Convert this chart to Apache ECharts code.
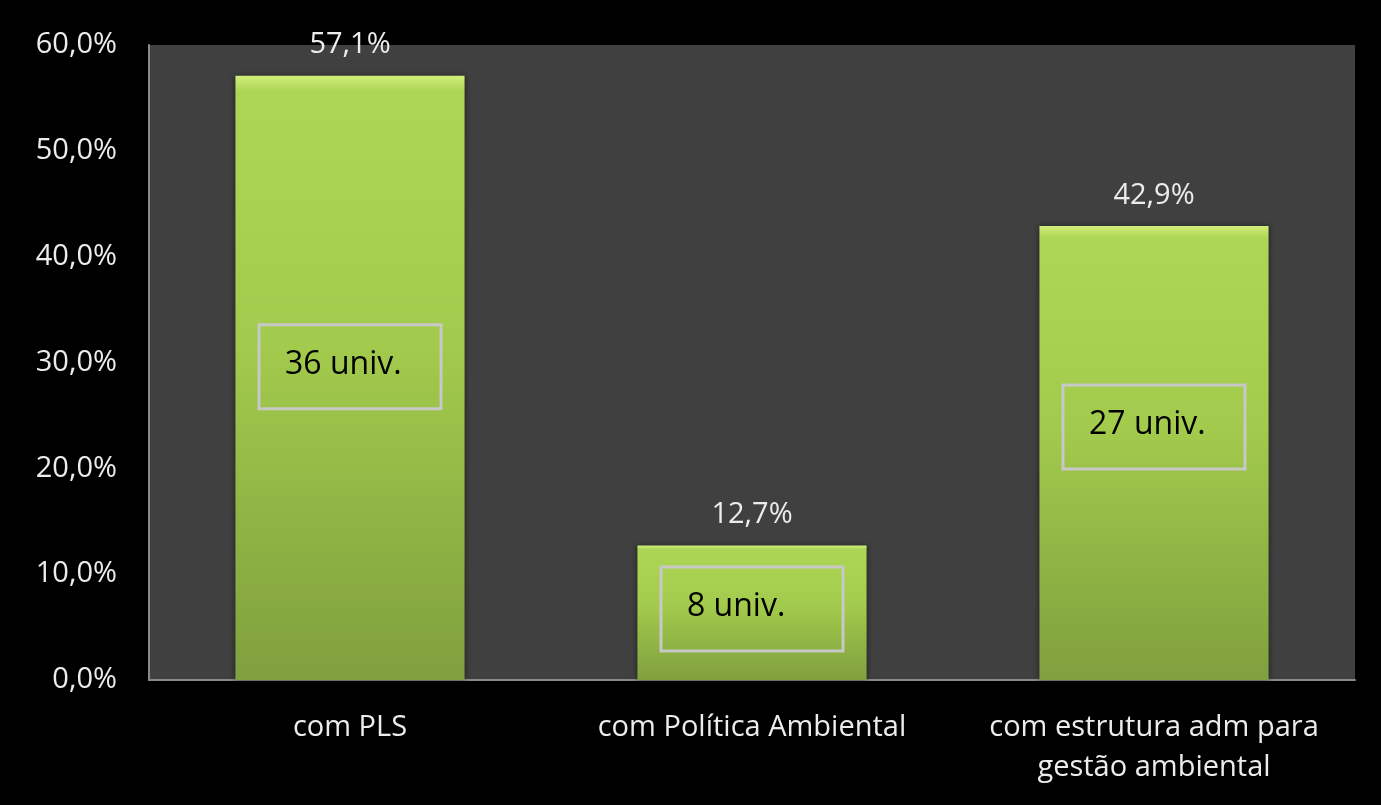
<!DOCTYPE html>
<html>
<head>
<meta charset="utf-8">
<script src="https://cdn.jsdelivr.net/npm/echarts@6/dist/echarts.min.js"></script>
<style>
  html, body { margin: 0; padding: 0; background: #000; }
  #chart { width: 1381px; height: 805px; }
</style>
</head>
<body>
<div id="chart"></div>
<script>
// dados do gráfico
const categories = ['com PLS', 'com Política Ambiental', 'com estrutura adm para\ngestão ambiental'];
const percentValues = [57.1, 12.7, 42.9];
const boxLabels = ['36 univ.', '8 univ.', '27 univ.'];
const boxCenters = [29.6, 6.7, 23.9];   // altura (em %) do centro de cada caixa
const yTicks = { min: 0, max: 60, interval: 10 };

const fmt = v => v.toFixed(1).replace('.', ',') + '%';

const chart = echarts.init(document.getElementById('chart'));

chart.setOption({
  backgroundColor: '#000',
  animation: false,
  textStyle: { fontFamily: 'Open Sans' },
  grid: {
    left: 149, right: 26, top: 45, bottom: 125,
    show: true, backgroundColor: '#404040', borderWidth: 0
  },
  xAxis: {
    type: 'category',
    data: categories,
    axisLine: { lineStyle: { color: '#8a8a8a', width: 2 } },
    axisTick: { show: false },
    axisLabel: { color: '#ececec', fontSize: 29, margin: 28, lineHeight: 40, interval: 0 }
  },
  yAxis: {
    type: 'value',
    min: yTicks.min, max: yTicks.max, interval: yTicks.interval,
    splitLine: { show: false },
    axisLine: { show: true, lineStyle: { color: '#8a8a8a', width: 2 } },
    axisTick: { show: false },
    axisLabel: { color: '#ececec', fontSize: 29, margin: 32, formatter: fmt }
  },
  series: [
    {
      type: 'bar',
      data: percentValues,
      barWidth: '57%',
      itemStyle: {
        color: new echarts.graphic.LinearGradient(0, 0, 0, 1, [
          { offset: 0, color: '#d2ee7c' },
          { offset: 0.025, color: '#aed656' },
          { offset: 0.45, color: '#a2ca4c' },
          { offset: 1, color: '#80a03e' }
        ]),
        shadowColor: 'rgba(0,0,0,0.5)',
        shadowBlur: 6
      },
      label: {
        show: true, position: 'top', distance: 16,
        color: '#ececec', fontSize: 29,
        formatter: p => fmt(p.value)
      }
    },
    {
      // caixas "N univ." dentro das barras
      type: 'custom',
      data: boxCenters.map((v, i) => [i, v, boxLabels[i]]),
      z: 5,
      renderItem: function (params, api) {
        const c = api.coord([api.value(0), api.value(1)]);
        const w = 182, h = 84;
        const x = c[0] - w / 2, y = c[1] - h / 2;
        return {
          type: 'group',
          children: [
            {
              type: 'rect',
              shape: { x: x, y: y, width: w, height: h },
              style: { fill: 'none', stroke: '#c8c8c8', lineWidth: 3 }
            },
            {
              type: 'text',
              style: {
                x: x + 26, y: c[1] - 2,
                text: boxLabels[params.dataIndex],
                fill: '#000', font: '32px "Open Sans"',
                align: 'left', verticalAlign: 'middle'
              }
            }
          ]
        };
      }
    }
  ]
});
</script>
</body>
</html>
